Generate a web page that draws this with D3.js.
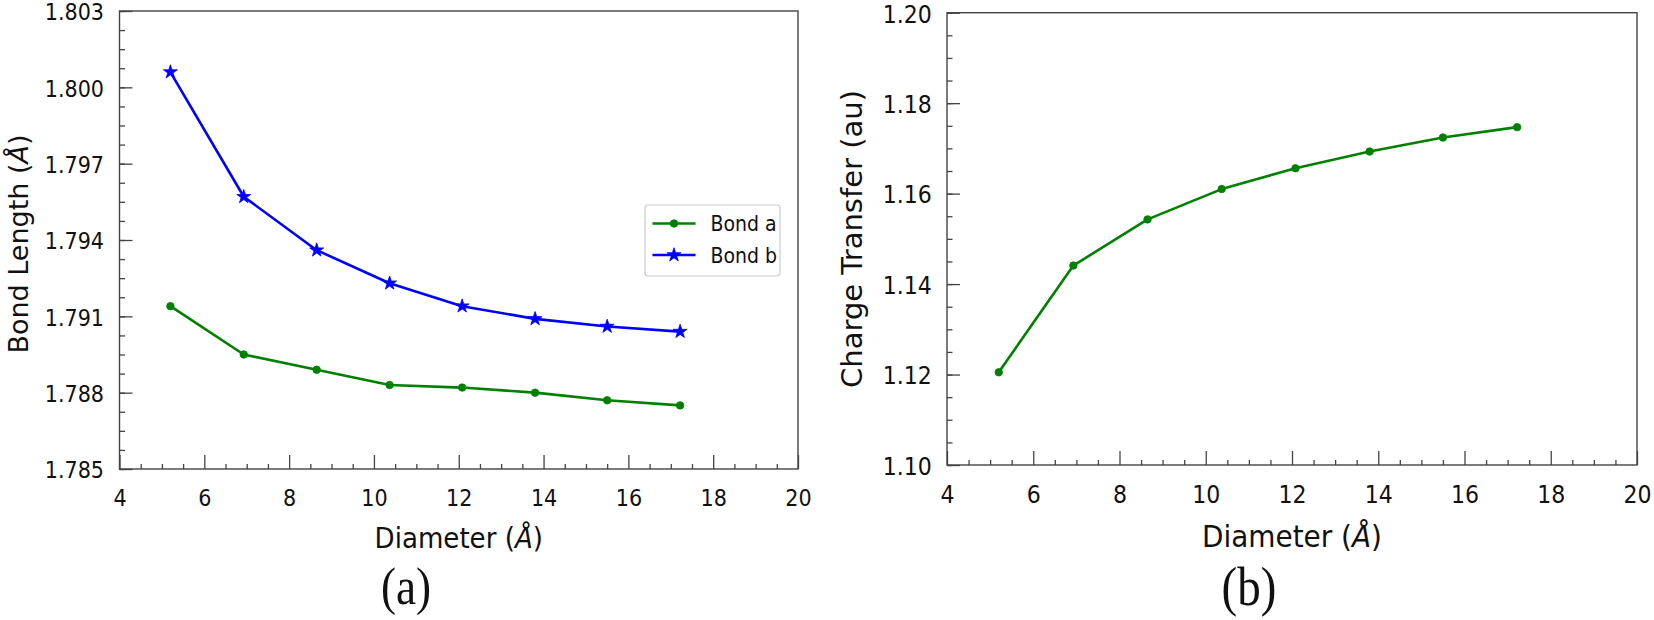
<!DOCTYPE html>
<html>
<head>
<meta charset="utf-8">
<script src="https://cdn.jsdelivr.net/npm/d3@7"></script>
<style>
  html, body { margin: 0; padding: 0; background: #fff; }
  svg { display: block; }
  .cond { font-family: "DejaVu Sans Condensed", "DejaVu Sans", sans-serif; font-stretch: condensed; }
</style>
</head>
<body>
<svg id="chart" width="1654" height="620"></svg>
<script>
// ---- data ----
const diameter = [5.2, 6.93, 8.65, 10.37, 12.08, 13.8, 15.5, 17.22];
const bondA = [1.7914, 1.7895, 1.7889, 1.7883, 1.7882, 1.7880, 1.7877, 1.7875];
const bondB = [1.8006, 1.7957, 1.7936, 1.7923, 1.7914, 1.7909, 1.7906, 1.7904];
const chargeTransfer = [1.1205, 1.1441, 1.1543, 1.1610, 1.1656, 1.1693, 1.1724, 1.1747];
const xTicks = [4, 6, 8, 10, 12, 14, 16, 18, 20];
const yTicksA = [1.785, 1.788, 1.791, 1.794, 1.797, 1.800, 1.803];
const yTicksB = [1.10, 1.12, 1.14, 1.16, 1.18, 1.20];
const seriesNames = ["Bond a", "Bond b"];
const panelLabels = ["(a)", "(b)"];

const svg = d3.select("#chart");
const axisColor = "#444";
const green = "#008000", blue = "#0000ff";

function panel(cfg) {
  const x = d3.scaleLinear().domain([4, 20]).range([cfg.left, cfg.right]);
  const y = d3.scaleLinear().domain(cfg.yDomain).range([cfg.bottom, cfg.top]);
  const g = svg.append("g");

  // minor ticks
  const xMinor = d3.range(4, 20.001, 0.5).filter(v => Math.abs(v / 2 - Math.round(v / 2)) > 1e-6);
  const yMinor = d3.range(cfg.yDomain[0], cfg.yDomain[1] + 1e-9, cfg.yMinorStep);
  g.append("g").attr("transform", `translate(0,${cfg.bottom})`)
    .call(d3.axisBottom(x).tickValues(xMinor).tickSize(-cfg.xMinorLen).tickSizeOuter(0).tickFormat(""))
    .call(s => s.select(".domain").remove());
  g.append("g").attr("transform", `translate(${cfg.left},0)`)
    .call(d3.axisLeft(y).tickValues(yMinor).tickSize(-cfg.yMinorLen).tickSizeOuter(0).tickFormat(""))
    .call(s => s.select(".domain").remove());

  // major ticks
  const xa = g.append("g").attr("transform", `translate(0,${cfg.bottom})`)
    .call(d3.axisBottom(x).tickValues(xTicks).tickSize(-cfg.xMajorLen).tickSizeOuter(0)
      .tickPadding(cfg.xPad).tickFormat(d3.format("d")));
  xa.select(".domain").remove();
  xa.selectAll("text").attr("class", "cond").style("font-size", cfg.tickFs + "px").attr("fill", "#111");
  const ya = g.append("g").attr("transform", `translate(${cfg.left},0)`)
    .call(d3.axisLeft(y).tickValues(cfg.yTicks).tickSize(-cfg.yMajorLen).tickSizeOuter(0)
      .tickPadding(cfg.yPad).tickFormat(d3.format(cfg.yFmt)));
  ya.select(".domain").remove();
  ya.selectAll("text").attr("class", "cond").attr("dy", "0.38em")
    .style("font-size", cfg.tickFs + "px").attr("fill", "#111");
  g.selectAll(".tick line").attr("stroke", axisColor).attr("stroke-width", 1.3);

  // frame
  g.append("rect").attr("x", cfg.left).attr("y", cfg.top)
    .attr("width", cfg.right - cfg.left).attr("height", cfg.bottom - cfg.top)
    .attr("fill", "none").attr("stroke", axisColor).attr("stroke-width", 1.4);

  // series
  cfg.series.forEach(s => {
    const pts = diameter.map((d, i) => [d, s.values[i]]);
    g.append("path").datum(pts)
      .attr("d", d3.line().x(d => x(d[0])).y(d => y(d[1])))
      .attr("fill", "none").attr("stroke", s.color).attr("stroke-width", 2.6)
      .attr("stroke-linejoin", "round");
    g.selectAll(null).data(pts).enter().append("path")
      .attr("transform", d => `translate(${x(d[0])},${y(d[1])})`)
      .attr("d", d3.symbol().type(s.symbol).size(s.size))
      .attr("fill", s.color).attr("stroke", s.color).attr("stroke-width", 0.8);
  });

  // x title
  const xt = g.append("text").attr("class", "cond")
    .attr("x", (cfg.left + cfg.right) / 2).attr("y", cfg.xTitleY)
    .attr("text-anchor", "middle").style("font-size", cfg.xTitleFs + "px").attr("fill", "#111");
  xt.append("tspan").text("Diameter (");
  xt.append("tspan").attr("font-style", "italic").text("Å");
  xt.append("tspan").text(")");

  // y title
  const yt = g.append("text")
    .attr("transform", `translate(${cfg.yTitleX},${cfg.yTitleCy}) rotate(-90)`)
    .attr("text-anchor", "middle").style("font-family", "DejaVu Sans, sans-serif")
    .style("font-size", cfg.yTitleFs + "px").attr("fill", "#111");
  cfg.yTitle.forEach(p => yt.append("tspan").attr("font-style", p.it ? "italic" : null).text(p.t));

  // panel label
  g.append("text")
    .attr("transform", `translate(${cfg.labelX},${cfg.labelY}) scale(0.87,1)`)
    .attr("text-anchor", "middle")
    .style("font-family", "Liberation Serif, Times New Roman, serif")
    .style("font-size", cfg.labelFs + "px").attr("fill", "#111")
    .text(cfg.label);

  return { x, y, g };
}

const pa = panel({
  left: 119.5, right: 798, top: 11, bottom: 469,
  yDomain: [1.785, 1.803], yTicks: yTicksA, yMinorStep: 0.00075, yFmt: ".3f",
  xMajorLen: 14, xMinorLen: 5, yMajorLen: 13, yMinorLen: 5.5,
  xPad: 21, yPad: 15.5, tickFs: 23,
  xTitleY: 548, xTitleFs: 29,
  yTitleX: 28, yTitleCy: 244, yTitleFs: 27,
  yTitle: [{ t: "Bond Length (" }, { t: "Å", it: true }, { t: ")" }],
  label: panelLabels[0], labelX: 406, labelY: 604, labelFs: 52,
  series: [
    { values: bondA, color: green, symbol: d3.symbolCircle, size: 44 },
    { values: bondB, color: blue, symbol: d3.symbolStar, size: 60 }
  ]
});

const pb = panel({
  left: 947, right: 1637, top: 12.7, bottom: 465,
  yDomain: [1.10, 1.20], yTicks: yTicksB, yMinorStep: 0.005, yFmt: ".2f",
  xMajorLen: 14, xMinorLen: 5, yMajorLen: 13, yMinorLen: 5.5,
  xPad: 20.5, yPad: 15.3, tickFs: 24.5,
  xTitleY: 547, xTitleFs: 31,
  yTitleX: 862, yTitleCy: 239, yTitleFs: 29,
  yTitle: [{ t: "Charge Transfer (au)" }],
  label: panelLabels[1], labelX: 1249, labelY: 605, labelFs: 54,
  series: [
    { values: chargeTransfer, color: green, symbol: d3.symbolCircle, size: 44 }
  ]
});

// legend (panel a)
const lg = pa.g.append("g");
lg.append("rect").attr("x", 645).attr("y", 205).attr("width", 135).attr("height", 71)
  .attr("rx", 3).attr("fill", "#fff").attr("fill-opacity", 0.8)
  .attr("stroke", "#cccccc").attr("stroke-width", 1.2);
const legendItems = [
  { name: seriesNames[0], color: green, symbol: d3.symbolCircle, size: 44 },
  { name: seriesNames[1], color: blue, symbol: d3.symbolStar, size: 60 }
];
legendItems.forEach((it, i) => {
  const cy = 223.5 + i * 31.5;
  lg.append("line").attr("x1", 652.5).attr("x2", 695.5).attr("y1", cy).attr("y2", cy)
    .attr("stroke", it.color).attr("stroke-width", 2.6);
  lg.append("path").attr("transform", `translate(674,${cy})`)
    .attr("d", d3.symbol().type(it.symbol).size(it.size))
    .attr("fill", it.color).attr("stroke", it.color).attr("stroke-width", 0.8);
  lg.append("text").attr("class", "cond").attr("x", 710.5).attr("y", cy).attr("dy", "0.36em")
    .style("font-size", "21px").attr("fill", "#111").text(it.name);
});
</script>
</body>
</html>
